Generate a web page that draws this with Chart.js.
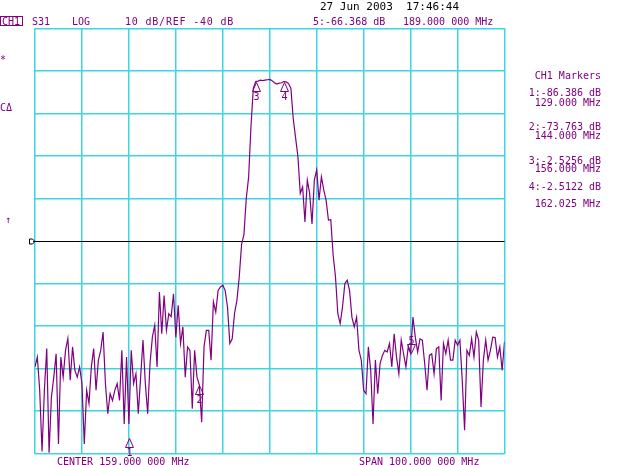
<!DOCTYPE html>
<html lang="en"><head>
<meta charset="utf-8">
<title>S31 Filter Sweep</title>
<style type="text/css">
body    { margin:0; background-color:#ffffff; }
#frame  { width:640px; height:465px; }
</style>
<script src="https://cdn.jsdelivr.net/npm/chart.js@4"></script>
<script>

// sweep: CENTER 159 MHz, SPAN 100 MHz, 201 points, 10 dB/div, REF -40 dB
const freqStart=109, freqStop=209;
const dbTop=10, dbBottom=-90, dbPerDiv=10, refLevel=-40;

const traceDb=[
  -69.6,-67.3,-75.1,-89.5,-75.1,-65.3,-89.8,-76.7,-72.0,-66.5,
  -87.7,-67.3,-72.0,-65.7,-62.9,-72.7,-64.9,-70.4,-72.0,-69.6,
  -73.5,-87.7,-75.1,-78.2,-69.6,-65.3,-75.1,-68.0,-65.7,-61.4,
  -73.5,-80.6,-75.9,-77.5,-75.1,-73.5,-77.5,-65.7,-83.0,-67.3,
  -83.0,-65.7,-73.5,-71.2,-80.6,-72.0,-63.3,-73.5,-80.6,-68.8,
  -62.6,-59.8,-69.6,-52.0,-61.8,-52.8,-61.0,-57.1,-57.8,-52.4,
  -62.6,-55.1,-64.1,-60.2,-72.0,-64.9,-65.7,-79.4,-65.7,-72.0,
  -73.8,-82.6,-64.9,-61.0,-61.0,-68.0,-54.3,-56.7,-51.6,-50.8,
  -50.4,-51.6,-55.5,-64.1,-63.0,-57.0,-54.0,-48.5,-40.8,-38.5,
  -30.0,-25.0,-13.1,-4.1,-2.53,-2.4,-2.2,-2.3,-2.2,-2.1,
  -2.0,-2.3,-2.8,-3.1,-2.9,-2.8,-2.51,-2.6,-3.0,-4.1,
  -11.2,-15.7,-20.2,-28.8,-27.3,-35.5,-25.7,-28.8,-36.0,-25.7,
  -23.3,-30.4,-24.9,-28.0,-30.4,-35.1,-35.0,-43.3,-48.4,-57.1,
  -59.4,-55.5,-50.0,-49.2,-51.6,-57.9,-60.2,-57.9,-65.7,-68.0,
  -75.1,-75.9,-64.9,-70.4,-83.0,-68.0,-75.9,-68.8,-66.9,-65.7,
  -66.1,-64.1,-69.6,-61.8,-67.3,-71.2,-63.3,-66.5,-69.6,-64.9,
  -66.4,-57.9,-62.6,-66.1,-63.0,-63.3,-68.8,-75.1,-66.9,-66.5,
  -71.2,-65.3,-64.9,-77.5,-64.1,-66.5,-63.3,-68.0,-68.0,-63.3,
  -64.5,-63.3,-72.8,-84.5,-65.7,-66.9,-63.0,-67.3,-61.4,-63.3,
  -79.0,-68.0,-63.3,-68.0,-65.7,-62.6,-62.7,-67.3,-64.9,-70.4,-63.7];

const markerNum=[1,2,3,4,5];
const markerFreq=[129.000,144.000,156.000,162.025,189.000];
const markerDb=[-86.386,-73.763,-2.5256,-2.5122,-66.368];
const activeMarker=5;

const headerDate="27 Jun 2003  17:46:44";
const headerChannel="CH1", headerParam="S31", headerFormat="LOG", headerScale="10 dB/REF -40 dB";
const headerMarker="5:-66.368 dB", headerMarkerFreq="189.000 000 MHz";
const footerCenter="CENTER 159.000 000 MHz", footerSpan="SPAN 100.000 000 MHz";

const purple="#800080", cyan="#3cd6e0";
const mono="10px 'DejaVu Sans Mono'";

function initChart() {
  let points=[];
  for (let index=0;index<traceDb.length;index++) {
    points.push({x:freqStart+index*(freqStop-freqStart)/(traceDb.length-1),y:traceDb[index]}); }

  let data={datasets:[{
    label:'S31',data:points,
    borderColor:purple,borderWidth:1.2,pointRadius:0,tension:0,fill:false}]};

  let config={type:'line',data,plugins:[overlay],options:{
    responsive:false,animation:false,
    layout:{padding:{left:35,right:135.5,top:28.3,bottom:11.3}},
    plugins:{legend:{display:false},tooltip:{enabled:false}},
    scales:{
      x:{type:'linear',min:freqStart,max:freqStop,
        ticks:{display:false,stepSize:(freqStop-freqStart)/10},
        grid:{color:cyan,lineWidth:1.5,drawTicks:false},border:{display:false}},
      y:{type:'linear',min:dbBottom,max:dbTop,
        ticks:{display:false,stepSize:dbPerDiv},
        grid:{color:function(ctx){ return (ctx.tick && ctx.tick.value==refLevel) ? 'rgba(0,0,0,0)' : cyan; },
          lineWidth:1.5,drawTicks:false},border:{display:false}}}}};

  new Chart(document.getElementById('sweepChart'),config); }

const overlay={id:'overlay',
  beforeDatasetsDraw(chart) {
    // reference line and its pointer on the left edge
    let c=chart.ctx, xs=chart.scales.x, ys=chart.scales.y;
    let yr=Math.round(ys.getPixelForValue(refLevel))+0.5;
    c.save(); c.strokeStyle="#000000"; c.lineWidth=1;
    c.beginPath(); c.moveTo(xs.left-2,yr); c.lineTo(xs.right,yr); c.stroke();
    c.beginPath(); c.moveTo(29.5,yr-2.5); c.lineTo(32.5,yr-2.5); c.lineTo(35,yr);
    c.lineTo(32.5,yr+2.5); c.lineTo(29.5,yr+2.5); c.closePath(); c.stroke();
    c.restore(); },
  afterDraw(chart) {
    let c=chart.ctx, xs=chart.scales.x, ys=chart.scales.y;
    c.save(); c.font=mono; c.textBaseline="alphabetic";

    // markers
    c.strokeStyle=purple; c.fillStyle=purple; c.lineWidth=1; c.textAlign="center";
    for (let i=0;i<markerNum.length;i++) {
      let px=Math.round(xs.getPixelForValue(markerFreq[i]))+0.5, py=Math.round(ys.getPixelForValue(markerDb[i]))+0.5;
      c.beginPath();
      if (markerNum[i]==activeMarker) {
        c.moveTo(px-4,py-9); c.lineTo(px+4,py-9); c.lineTo(px,py); c.closePath(); c.stroke();
        c.fillText(String(markerNum[i]),px,py-10); }
      else {
        c.moveTo(px,py); c.lineTo(px-4,py+9); c.lineTo(px+4,py+9); c.closePath(); c.stroke();
        c.fillText(String(markerNum[i]),px,py+17); } }

    // header
    c.textAlign="left"; c.fillStyle="#000000";
    c.font="11px 'DejaVu Sans Mono'"; c.fillText(headerDate,320,10);
    c.font=mono; c.fillStyle=purple;
    c.fillText(headerChannel,2,25); c.strokeRect(0.5,16.5,22,9);
    c.fillText(headerParam,32,25); c.fillText(headerFormat,72,25);
    c.save(); c.letterSpacing="0.8px"; c.fillText(headerScale,125,25); c.restore();
    c.fillText(headerMarker,313,25); c.fillText(headerMarkerFreq,403,25);

    // footer
    c.fillText(footerCenter,57,465); c.fillText(footerSpan,359,465);

    // left side soft keys
    c.fillText("*",0,63); c.fillText("CΔ",0,111); c.fillText("↑",5,223);

    // marker table
    let rowDb=[96,130,164,190], rowFreq=[106,139,172,207];
    c.textAlign="right"; c.fillText("CH1 Markers",601,79);
    for (let i=0;i<markerNum.length;i++) {
      if (markerNum[i]==activeMarker) { continue; }
      c.fillText(markerNum[i]+":"+markerDb[i]+" dB",601,rowDb[i]);
      c.fillText(markerFreq[i].toFixed(3)+" MHz",601,rowFreq[i]); }
    c.restore(); }};

</script></head>
<body onload="initChart();">
<div id="frame"><canvas id="sweepChart" width="640" height="465"></canvas></div>
</body></html>
